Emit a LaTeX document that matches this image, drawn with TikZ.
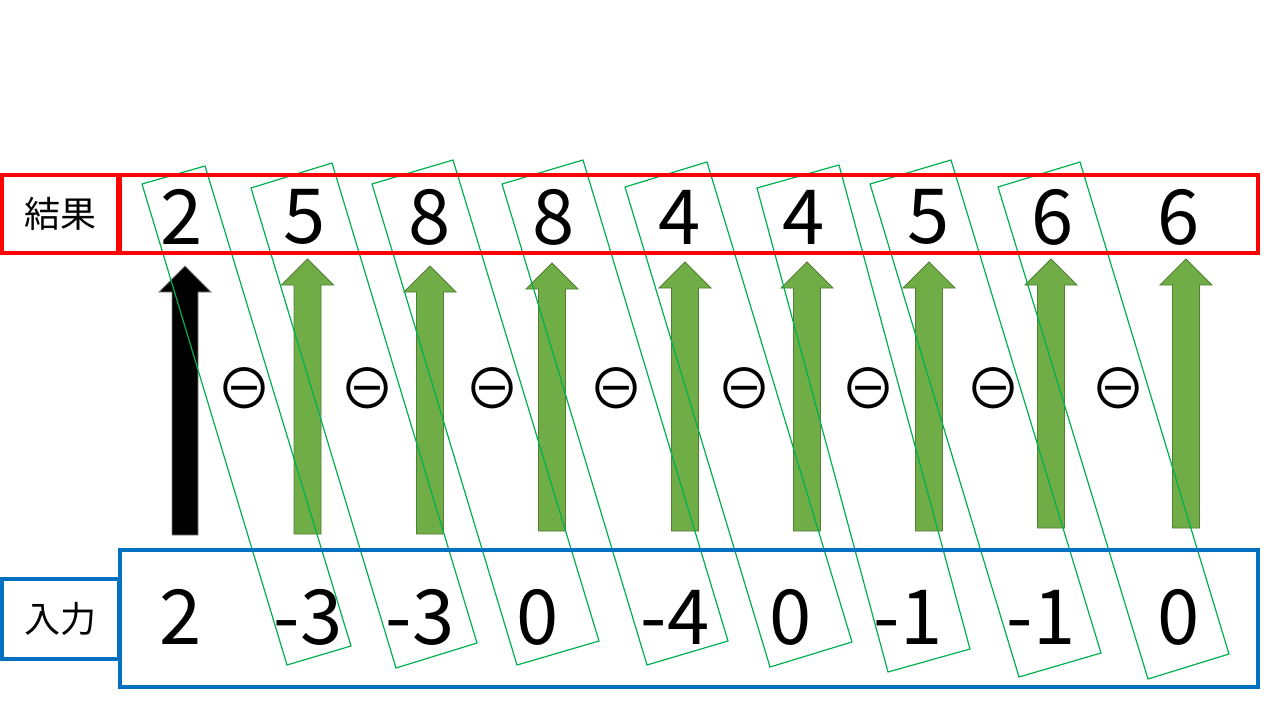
\documentclass[tikz,border=0pt]{standalone}
\usepackage{fontspec}
\setmainfont{Noto Sans CJK JP}
\definecolor{bluec}{HTML}{0070C0}
\definecolor{greenl}{HTML}{00B050}
\definecolor{greena}{HTML}{70AD47}
\definecolor{greend}{HTML}{507E32}
\begin{document}
\begin{tikzpicture}[x=1pt,y=-1pt]
\useasboundingbox (0,0) rectangle (1280,720);
\tikzset{
 redbox/.style={draw=red, line width=3.8pt, inner sep=0pt},
 bluebox/.style={draw=bluec, line width=3.8pt, inner sep=0pt},
 num/.style={font=\fontsize{76}{76}\selectfont, inner sep=0pt, anchor=center},
 lab/.style={font=\fontsize{36}{36}\selectfont},
 grect/.style={draw=greenl, line width=1.2pt, line join=miter},
 garrow/.style={fill=greena, draw=greend, line width=0.8pt},
 karrow/.style={fill=black, draw=gray, line width=0.8pt},
 minusop/.style={font=\fontsize{56}{56}\selectfont, inner sep=0pt}
}
% block arrows
\draw[karrow] (172,535) -- (172,292) -- (159,292) -- (185,266) -- (211,292) -- (198,292) -- (198,535) -- cycle;
\foreach \c/\t/\b in {307.5/259/534, 430/266/534, 552/263/531, 685/262/531, 807/262/531, 929/262/531, 1051/259/528, 1186/259/528}{
  \draw[garrow] ({\c-13.5},\b) -- ({\c-13.5},{\t+26}) -- ({\c-26},{\t+26}) -- (\c,\t) -- ({\c+26},{\t+26}) -- ({\c+13.5},{\t+26}) -- ({\c+13.5},\b) -- cycle;
}
% minus operators
\foreach \x [count=\i] in {244, 367, 492, 616, 744, 868, 993, 1118}{
  \node[minusop] (m\i) at (\x,388) {⊖};
}
% tilted green frames
\draw[grect] (142,184) -- (205,166) -- (351,646) -- (287,665) -- cycle;
\draw[grect] (251,188) -- (332,163) -- (477,643) -- (396,668) -- cycle;
\draw[grect] (372,184) -- (453,160) -- (599,641) -- (517,665) -- cycle;
\draw[grect] (502,184) -- (583,160) -- (728,641) -- (647,665) -- cycle;
\draw[grect] (625,187) -- (707,162) -- (852,642) -- (770,667) -- cycle;
\draw[grect] (757,188) -- (839,165) -- (970,649) -- (888,672) -- cycle;
\draw[grect] (870,184) -- (951,160) -- (1101,653) -- (1019,677) -- cycle;
\draw[grect] (998,187) -- (1080,162) -- (1229,654) -- (1148,679) -- cycle;
% boxes
\node[redbox, minimum width=116pt, minimum height=78.3pt, lab] (reslab) at (60,213.85) {結果};
\node[redbox, minimum width=1137.5pt, minimum height=78.3pt] (res) at (689.25,213.85) {};
\node[bluebox, minimum width=117.3pt, minimum height=80pt, lab] (inplab) at (60.35,618.7) {入力};
\node[bluebox, minimum width=1137.7pt, minimum height=137pt] (inp) at (689.15,618.5) {};
% numbers
\foreach \x/\v [count=\i] in {181.5/2, 305/5, 430/8, 554/8, 680/4, 804/4, 929/5, 1053/6, 1179/6}{
  \node[num] (r\i) at (\x,217) {\v};
}
\foreach \x/\v [count=\i] in {181/2, 308/-3, 420/-3, 538/0, 675/-4, 791/0, 908/-1, 1041/-1, 1179/0}{
  \node[num] (n\i) at (\x,617) {\v};
}
\end{tikzpicture}
\end{document}
